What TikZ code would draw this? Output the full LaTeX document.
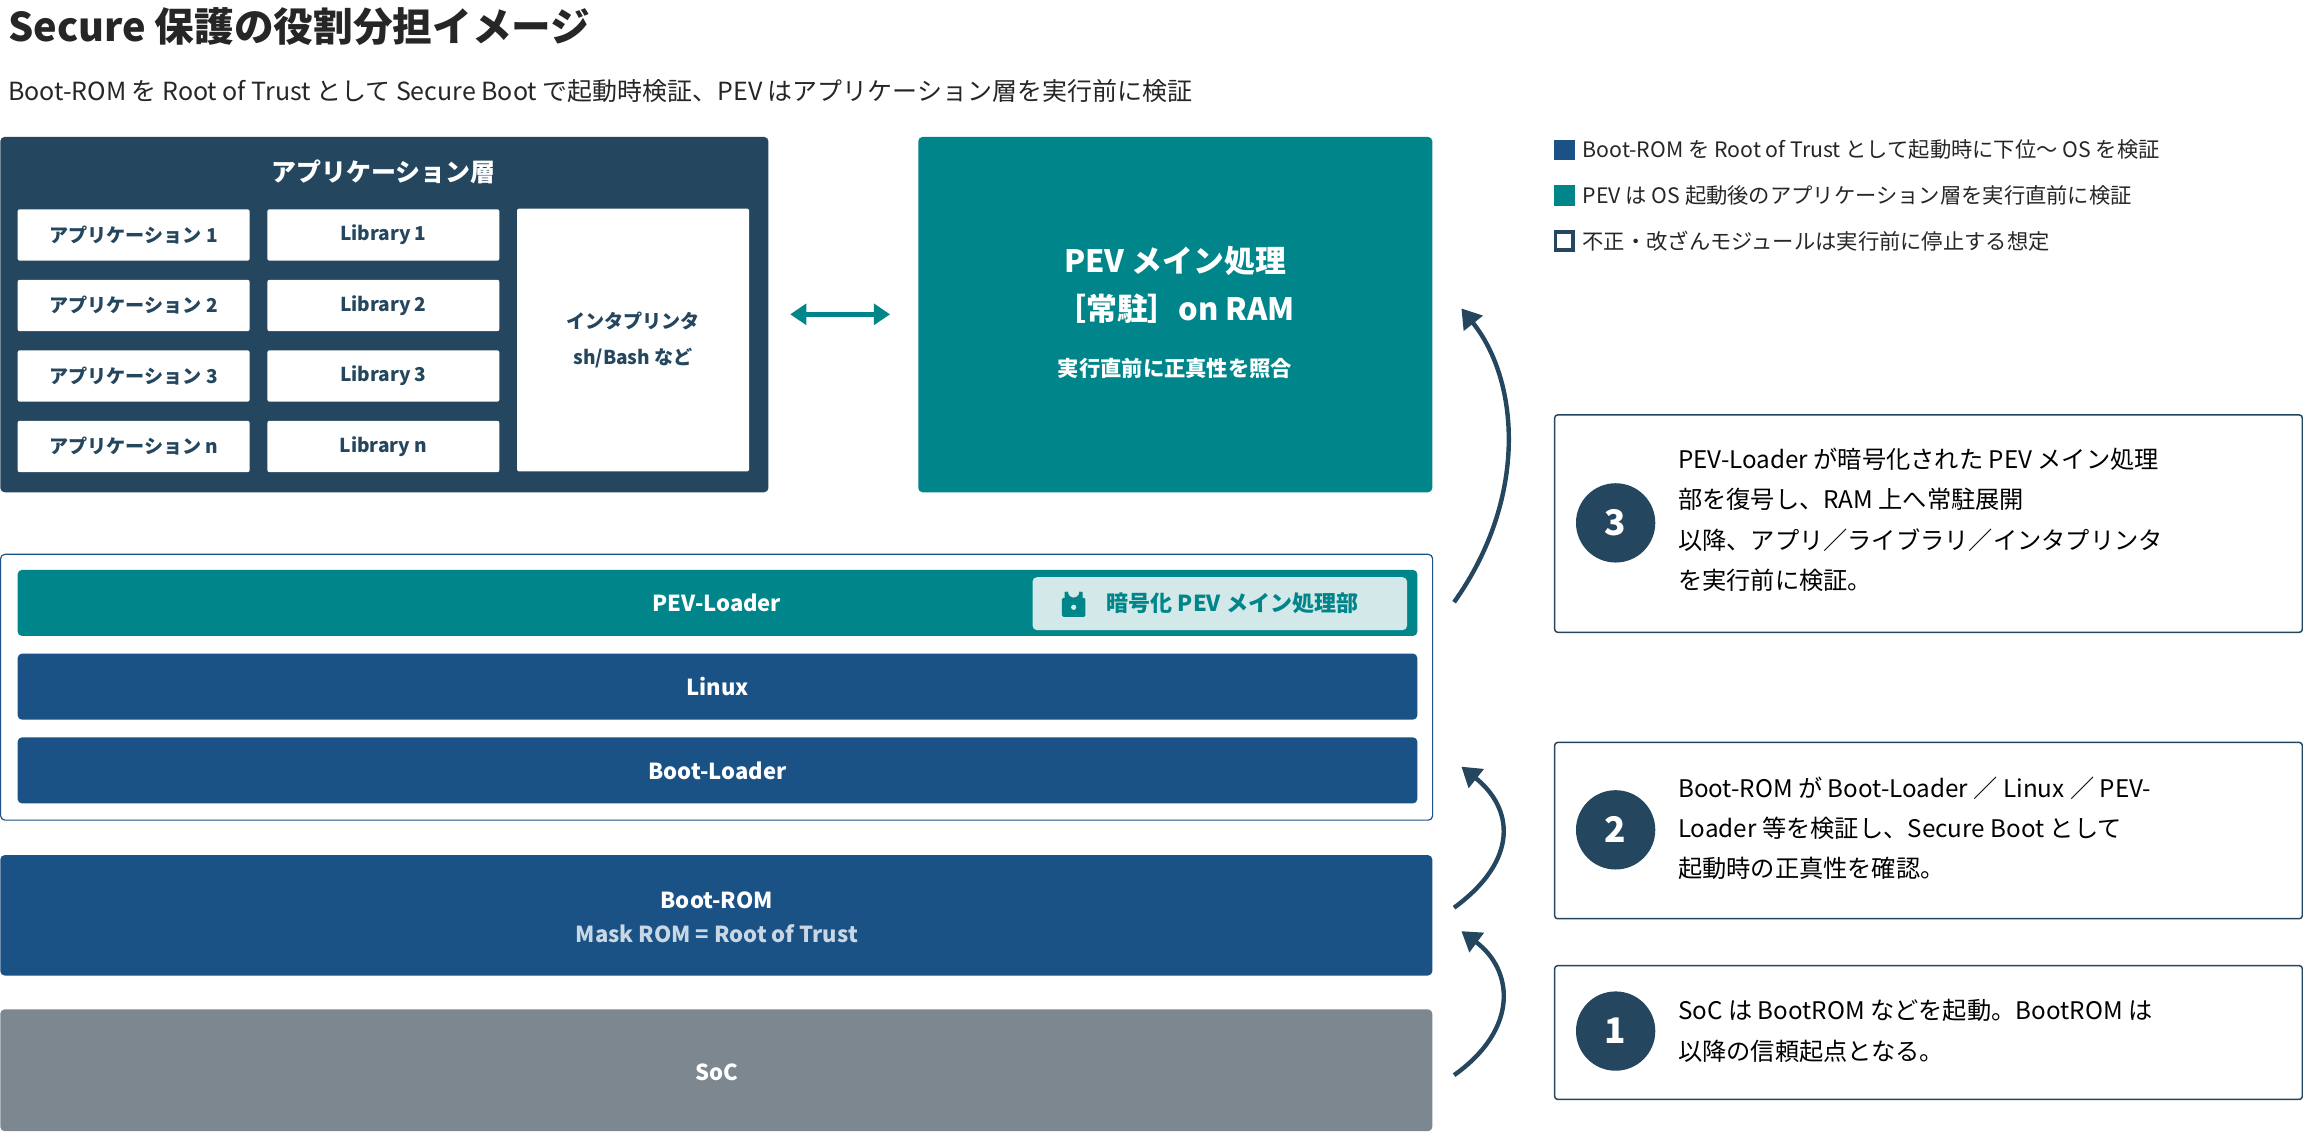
\documentclass[tikz,border=0pt]{standalone}
\usepackage{fontspec}
\setmainfont{Noto Sans CJK JP}
\usetikzlibrary{arrows.meta}
\definecolor{slate}{HTML}{24465E}
\definecolor{bblue}{HTML}{1B5286}
\definecolor{teal2}{HTML}{00858A}
\definecolor{soc}{HTML}{7D8790}
\definecolor{badge}{HTML}{D3E8E8}
\definecolor{maskc}{HTML}{C9D6E3}
\begin{document}
\begin{tikzpicture}[x=1pt,y=-1pt,
  appbox/.style={draw=none,fill=white,rounded corners=1.5pt,text=slate,font=\fontsize{13}{15}\selectfont\bfseries},
  bar/.style={rounded corners=3pt,text=white,font=\fontsize{15}{18}\selectfont\bfseries},
  rbox/.style={draw=slate,line width=1pt,fill=white,rounded corners=2pt},
  num/.style={circle,fill=slate,text=white,minimum size=54pt,inner sep=0pt,font=\fontsize{24}{28}\selectfont\bfseries},
  rtext/.style={anchor=west,align=left,text=black,font=\fontsize{16.5}{27.5}\selectfont},
  curv/.style={draw=slate,line width=3pt,-{Triangle[length=13pt,width=16pt]}},
  leg/.style={anchor=west,font=\fontsize{14.5}{17}\selectfont,text=black!85}]
\useasboundingbox (0,0) rectangle (1568,771);
\node[anchor=west,font=\fontsize{27}{30}\selectfont\bfseries,text=black!85] (title) at (2,18) {Secure 保護の役割分担イメージ};
\node[anchor=west,font=\fontsize{17}{20}\selectfont,text=black!85] (sub) at (2,62) {Boot-ROM を Root of Trust として Secure Boot で起動時検証、PEV はアプリケーション層を実行前に検証};
% app layer
\node[fill=slate,rounded corners=3pt,minimum width=523pt,minimum height=242pt,anchor=north west,inner sep=0pt] (applayer) at (0,93) {};
\node[text=white,font=\fontsize{17}{20}\selectfont\bfseries] (apptitle) at (261,117) {アプリケーション層};
\foreach \i/\y/\t in {1/160/1,2/208/2,3/256/3,4/304/n}{
  \node[appbox,minimum width=158pt,minimum height=35pt,inner sep=0pt] (app\i) at (91,\y) {アプリケーション \t};
  \node[appbox,minimum width=158pt,minimum height=35pt,inner sep=0pt] (lib\i) at (261,\y) {Library \t};
}
\node[appbox,minimum width=158pt,minimum height=179pt,inner sep=0pt,align=center,font=\fontsize{13}{25}\selectfont\bfseries] (interp) at (431,231.5) {インタプリンタ\\sh/Bash など};
% PEV main
\node[fill=teal2,rounded corners=3pt,minimum width=350pt,minimum height=242pt,anchor=north west,inner sep=0pt] (pev) at (625,93) {};
\node[text=white,font=\fontsize{21}{33}\selectfont\bfseries,align=center] (pevt) at (800,194) {PEV メイン処理\\［常駐］on RAM};
\node[text=white,font=\fontsize{14.5}{17}\selectfont\bfseries] (pevs) at (800,251) {実行直前に正真性を照合};
\coordinate (da) at (538,214); \coordinate (db) at (606,214);
\draw[teal2,line width=3pt,{Triangle[length=11pt,width=14pt]}-{Triangle[length=11pt,width=14pt]}] (da) -- (db);
% OS container
\node[draw=bblue,line width=0.8pt,fill=white,rounded corners=3pt,minimum width=975pt,minimum height=181pt,anchor=north west,inner sep=0pt] (os) at (0,377) {};
\node[bar,fill=teal2,minimum width=953pt,minimum height=45pt,inner sep=0pt] (loader) at (488.5,410.5) {};
\node[text=white,font=\fontsize{15}{18}\selectfont\bfseries] (loadert) at (488,410.5) {PEV-Loader};
\node[fill=badge,rounded corners=3pt,minimum width=255pt,minimum height=36pt,inner sep=0pt] (badge) at (830.5,411) {};
\node[text=teal2,font=\fontsize{15}{18}\selectfont\bfseries,anchor=west] (badget) at (750,411) {暗号化 PEV メイン処理部};
\fill[teal2,rounded corners=1pt] (723,407) rectangle (739,420);
\draw[teal2,line width=2.2pt] (726,407) -- (726,403) arc (180:0:5) -- (736,407);
\fill[badge] (731,413.5) circle (1.8);
\node[bar,fill=bblue,minimum width=953pt,minimum height=45pt,inner sep=0pt] (linux) at (488.5,467.5) {Linux};
\node[bar,fill=bblue,minimum width=953pt,minimum height=45pt,inner sep=0pt] (bl) at (488.5,524.5) {Boot-Loader};
% Boot ROM
\node[fill=bblue,rounded corners=3pt,minimum width=975pt,minimum height=82pt,anchor=north west,inner sep=0pt] (rom) at (0,582) {};
\node[text=white,font=\fontsize{15}{18}\selectfont\bfseries] (romt) at (488,613) {Boot-ROM};
\node[text=maskc,font=\fontsize{15}{18}\selectfont\bfseries] (roms) at (488,636) {Mask ROM = Root of Trust};
% SoC
\node[fill=soc,rounded corners=3pt,minimum width=975pt,minimum height=83pt,anchor=north west,inner sep=0pt] (socb) at (0,687) {};
\node[text=white,font=\fontsize{15}{18}\selectfont\bfseries] (soct) at (488,730) {SoC};
% curved arrows
\coordinate (a1s) at (990,732); \coordinate (a1e) at (995,634);
\coordinate (a2s) at (990,618); \coordinate (a2e) at (995,522);
\coordinate (a3s) at (990,410); \coordinate (a3e) at (995,210);
\draw[curv] (a1s) .. controls (1035,700) and (1030,660) .. (a1e);
\draw[curv] (a2s) .. controls (1035,585) and (1030,550) .. (a2e);
\draw[curv] (a3s) .. controls (1040,340) and (1035,260) .. (a3e);
% right boxes
\node[rbox,minimum width=509pt,minimum height=148pt,anchor=north west,inner sep=0pt] (r3) at (1058,282) {};
\node[num] (n3) at (1100,356) {3};
\node[rtext] (t3) at (1139,354) {PEV-Loader が暗号化された PEV メイン処理\\部を復号し、RAM 上へ常駐展開\\以降、アプリ／ライブラリ／インタプリンタ\\を実行前に検証。};
\node[rbox,minimum width=509pt,minimum height=120pt,anchor=north west,inner sep=0pt] (r2) at (1058,505) {};
\node[num] (n2) at (1100,565) {2};
\node[rtext] (t2) at (1139,564) {Boot-ROM が Boot-Loader ／ Linux ／ PEV-\\Loader 等を検証し、Secure Boot として\\起動時の正真性を確認。};
\node[rbox,minimum width=509pt,minimum height=91pt,anchor=north west,inner sep=0pt] (r1) at (1058,657) {};
\node[num] (n1) at (1100,702) {1};
\node[rtext] (t1) at (1139,702) {SoC は BootROM などを起動。BootROM は\\以降の信頼起点となる。};
% legend
\node[fill=bblue,minimum size=14pt,inner sep=0pt] (l1) at (1065,102) {};
\node[leg] (lt1) at (1074,102) {Boot-ROM を Root of Trust として起動時に下位〜 OS を検証};
\node[fill=teal2,minimum size=14pt,inner sep=0pt] (l2) at (1065,133) {};
\node[leg] (lt2) at (1074,133) {PEV は OS 起動後のアプリケーション層を実行直前に検証};
\node[draw=slate,line width=2.5pt,fill=white,minimum size=12pt,inner sep=0pt] (l3) at (1065,164) {};
\node[leg] (lt3) at (1074,164) {不正・改ざんモジュールは実行前に停止する想定};
\end{tikzpicture}
\end{document}
